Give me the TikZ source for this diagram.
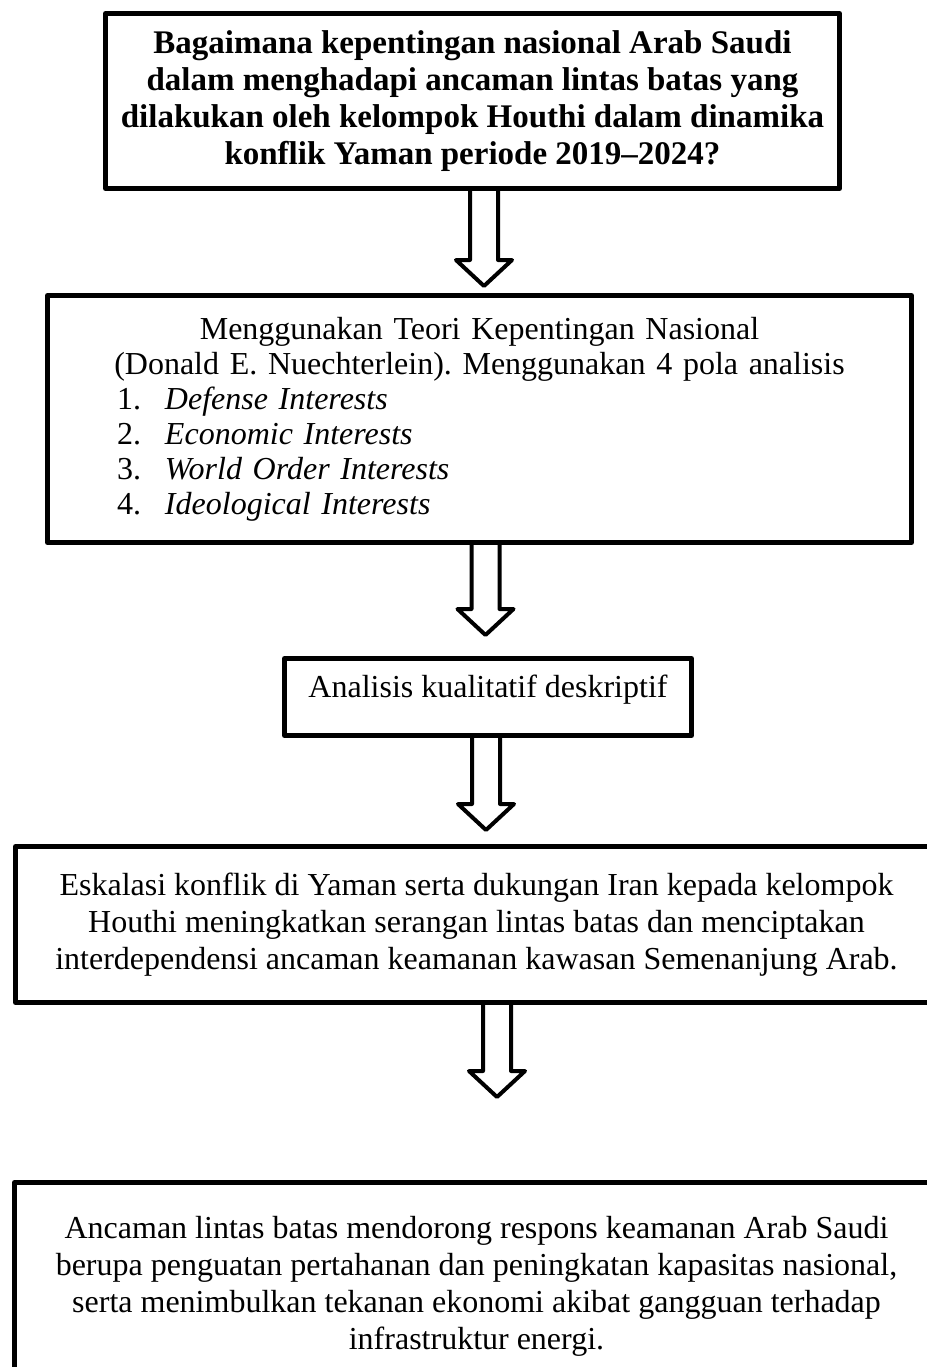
\documentclass[tikz,border=0pt]{standalone}
\usepackage{fontspec}
\setmainfont{Liberation Serif}
\usetikzlibrary{calc}
\frenchspacing

% hollow down arrow: start point on a box edge, tip coordinate
\newcommand{\blockarrow}[2]{%
  \draw[hollowarrow] let \p1=(#1), \p2=(#2) in
    (\x1-7pt,\y1) -- (\x1-7pt,\y2+13pt) -- (\x1-14pt,\y2+13pt) -- (\x1,\y2)
    -- (\x1+14pt,\y2+13pt) -- (\x1+7pt,\y2+13pt) -- (\x1+7pt,\y1);}
\newcommand{\listitem}[2]{\makebox[420pt][l]{\hspace{28.75pt}\makebox[24pt][l]{#1}\textit{#2}}}

\begin{document}
\begin{tikzpicture}[
    x=0.5pt, y=-0.5pt,
    box/.style={draw, line width=2.5pt, line join=round, align=center, inner sep=0pt,
      font=\fontsize{16}{18.5}\selectfont},
    hollowarrow/.style={draw, line width=2pt, line join=round}
  ]
  \useasboundingbox (0,0) rectangle (927,1367);
  \clip (0,0) rectangle (927,1367);

  % Nodes
  \node[box, minimum width=367pt, minimum height=87.5pt,
    font=\fontsize{16.5}{18.4}\selectfont\bfseries] (question) at (472.5,101)
    {Bagaimana kepentingan nasional Arab Saudi\\dalam menghadapi ancaman lintas batas yang\\dilakukan oleh kelompok Houthi dalam dinamika\\konflik Yaman periode 2019–2024?};
  \node[box, minimum width=432pt, minimum height=123.5pt, text width=420pt,
    font=\fontsize{16}{17.5}\selectfont] (theory) at (479.5,419)
    {Menggunakan Teori Kepentingan Nasional\\(Donald E. Nuechterlein). Menggunakan 4 pola analisis\\
     \listitem{1.}{Defense Interests}\\
     \listitem{2.}{Economic Interests}\\
     \listitem{3.}{World Order Interests}\\
     \listitem{4.}{Ideological Interests}};
  \node[box, minimum width=203.5pt, minimum height=38.5pt, text height=8pt, text depth=8pt]
    (method) at (488,697) {Analisis kualitatif deskriptif};
  \node[box, minimum width=461pt, minimum height=78pt] (escalation) at (476.5,924.5)
    {Eskalasi konflik di Yaman serta dukungan Iran kepada kelompok\\Houthi meningkatkan serangan lintas batas dan menciptakan\\interdependensi ancaman keamanan kawasan Semenanjung Arab.};
  \node[box, minimum width=462pt, minimum height=103.5pt] (response) at (476.5,1286)
    {Ancaman lintas batas mendorong respons keamanan Arab Saudi\\berupa penguatan pertahanan dan peningkatan kapasitas nasional,\\serta menimbulkan tekanan ekonomi akibat gangguan terhadap\\infrastruktur energi.};

  % Arrow tips
  \coordinate (tip1) at (484,286);
  \coordinate (tip2) at (485.5,635);
  \coordinate (tip3) at (486,830);
  \coordinate (tip4) at (497,1097);

  % Arrows
  \blockarrow{question.south -| tip1}{tip1}
  \blockarrow{theory.south -| tip2}{tip2}
  \blockarrow{method.south -| tip3}{tip3}
  \blockarrow{escalation.south -| tip4}{tip4}

\end{tikzpicture}
\end{document}
